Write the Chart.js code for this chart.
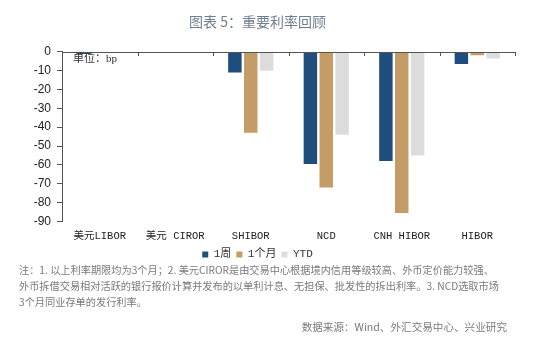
<!DOCTYPE html>
<html><head><meta charset="utf-8">
<script src="https://cdn.jsdelivr.net/npm/chart.js@4/dist/chart.umd.min.js"></script>
<style>
html,body{margin:0;padding:0;background:#fff;}
#wrap{position:relative;width:554px;height:339px;overflow:hidden;}
#cv{position:absolute;left:0;top:0;}
.note{position:absolute;left:19px;top:262px;font-family:"Noto Sans CJK SC",sans-serif;font-size:10.2px;line-height:16px;color:#7a7a7a;white-space:nowrap;}
.src{position:absolute;right:47px;top:319px;font-family:"Noto Sans CJK SC",sans-serif;font-size:10.6px;color:#7a7a7a;}
.unit{position:absolute;left:73px;top:49px;font-family:"Liberation Serif","Noto Sans CJK SC",serif;font-size:11px;color:#333;}
</style></head>
<body>
<div id="wrap">
<canvas id="cv" width="554" height="270"></canvas>
<div class="unit">单位：bp</div>
<div class="note">注：1. 以上利率期限均为3个月；2. 美元CIROR是由交易中心根据境内信用等级较高、外币定价能力较强、<br>外币拆借交易相对活跃的银行报价计算并发布的以单利计息、无担保、批发性的拆出利率。3. NCD选取市场<br>3个月同业存单的发行利率。</div>
<div class="src">数据来源：Wind、外汇交易中心、兴业研究</div>
</div>
<script>
const categories = ['美元LIBOR', '美元 CIROR', 'SHIBOR', 'NCD', 'CNH HIBOR', 'HIBOR'];
const week = [-1.2, 0, -11, -59.5, -58, -6.5];
const month = [-0.5, 0, -43, -72, -85.5, -1.8];
const ytd = [-0.4, 0, -10, -44, -55, -3.5];
const seriesNames = ['1周', '1个月', 'YTD'];

const topAxis = {
  id: 'topAxis',
  afterDatasetsDraw(chart) {
    const {ctx, chartArea, scales} = chart;
    const x = scales.x, y = scales.y;
    const y0 = y.getPixelForValue(0);
    ctx.save();
    ctx.strokeStyle = '#555';
    ctx.lineWidth = 1;
    ctx.beginPath();
    ctx.moveTo(chartArea.left, Math.round(y0) + 0.5);
    ctx.lineTo(chartArea.right, Math.round(y0) + 0.5);
    const n = categories.length;
    const w = (chartArea.right - chartArea.left) / n;
    for (let i = 0; i < n; i++) {
      const px = Math.round(x.getPixelForValue(i) + w / 2) + 0.5;
      ctx.moveTo(px, Math.round(y0));
      ctx.lineTo(px, Math.round(y0) + 4);
    }
    ctx.stroke();
    ctx.restore();
  }
};

new Chart(document.getElementById('cv'), {
  type: 'bar',
  data: {
    labels: categories,
    datasets: [
      {label: seriesNames[0], data: week, backgroundColor: '#1f4e7c'},
      {label: seriesNames[1], data: month, backgroundColor: '#c49d66'},
      {label: seriesNames[2], data: ytd, backgroundColor: '#dcdcdc'}
    ]
  },
  options: {
    responsive: false,
    animation: false,
    categoryPercentage: 0.63,
    barPercentage: 0.85,
    layout: {padding: {left: 0, right: 39, top: 0, bottom: 0}},
    plugins: {
      title: {display: true, text: '图表 5：重要利率回顾', color: '#6f7e8e',
        font: {family: 'Noto Sans CJK SC', size: 14, weight: 'normal'}, padding: {top: 13, bottom: 22}},
      legend: {position: 'bottom', labels: {boxWidth: 6, boxHeight: 6, color: '#333',
        font: {family: 'Liberation Mono, Noto Sans CJK SC', size: 11}, padding: 5}},
      tooltip: {enabled: false}
    },
    scales: {
      x: {
        grid: {display: false},
        border: {display: false},
        ticks: {color: '#222', font: {family: 'Liberation Mono, Noto Sans CJK SC', size: 10.5}, maxRotation: 0, padding: 1}
      },
      y: {
        min: -90, max: 0,
        afterFit(s) { s.width = 62; },
        grid: {display: true, drawOnChartArea: false, drawTicks: true, tickLength: 5, color: '#555'},
        border: {display: true, color: '#555'},
        ticks: {stepSize: 10, autoSkip: false, color: '#222', font: {family: 'Liberation Sans', size: 12}, padding: 6}
      }
    }
  },
  plugins: [topAxis]
});
</script>
</body></html>
